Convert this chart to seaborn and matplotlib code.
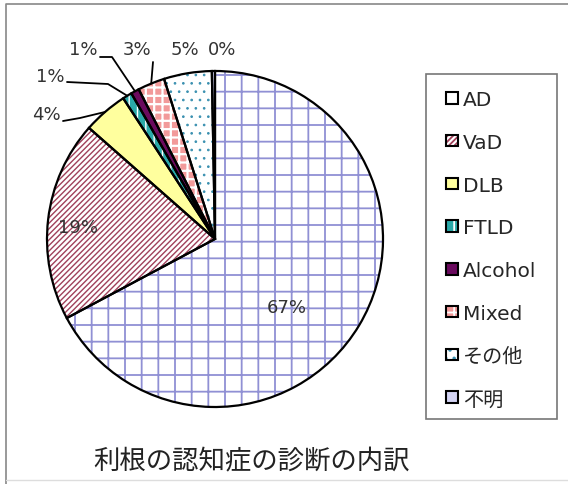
import numpy as np
import matplotlib.pyplot as plt
import seaborn as sns
from matplotlib.patches import Patch, Rectangle
from matplotlib.lines import Line2D

# 診断名と割合（%）
labels = ["AD", "VaD", "DLB", "FTLD", "Alcohol", "Mixed", "その他", "不明"]
values = [67.2, 19.3, 4.3, 0.9, 0.8, 2.6, 4.6, 0.3]
title = "利根の認知症の診断の内訳"

# 塗り・ハッチ
face_colors = ["white", "white", "#ffff9e", "#2aa9a9", "#6a0a5e", "#f29a9a", "white", "#d4d4f4"]
hatches = ["+", "//////", None, "||", None, "++", "..", None]
hatch_colors = ["#9090d4", "#a0405a", "#ffff9e", "white", "#6a0a5e", "white", "#3a90b0", "#d4d4f4"]
hatch_widths = [1.3, 1.0, 1.0, 1.0, 1.0, 1.6, 0.7, 1.0]

sns.set_theme(style="white")
plt.rcParams["font.family"] = ["DejaVu Sans", "Noto Sans CJK JP"]
plt.rcParams["hatch.linewidth"] = 1.3

W, H = 568, 485
fig = plt.figure(figsize=(W / 100, H / 100), dpi=100)

# 円の位置（ピクセル）
cx, cy, r = 215, 240, 168
ax = fig.add_axes([(cx - r) / W, (H - cy - r) / H, 2 * r / W, 2 * r / H])


def px(x, y):
    # ピクセル座標 -> 円グラフのデータ座標
    return (x - cx) / r, (cy - y) / r


def style_patch(p, h, hc, hw):
    if h:
        p.set_hatch(h)
    p.set_edgecolor(hc)
    if hasattr(p, "set_hatch_linewidth"):
        p.set_hatch_linewidth(hw)


wedges, _ = ax.pie(values, startangle=90, counterclock=False,
                   colors=face_colors, wedgeprops=dict(linewidth=0))
for w, h, hc, hw in zip(wedges, hatches, hatch_colors, hatch_widths):
    style_patch(w, h, hc, hw)
# 黒い輪郭
ax.pie(values, startangle=90, counterclock=False,
       wedgeprops=dict(fill=False, edgecolor="black", linewidth=1.6))
ax.set_xlim(-1, 1)
ax.set_ylim(-1, 1)

# パーセントラベル位置（ピクセル）
pct_pos = [(287, 308), (78, 228), (46, 115), (50, 77), (83, 50), (137, 50), (185, 50), (222, 50)]
for v, (x, y) in zip(values, pct_pos):
    ax.text(*px(x, y), f"{v:.0f}%", ha="center", va="center", fontsize=13,
            color="#333333", clip_on=False)

# 引き出し線
leaders = {2: [(63, 122), (80, 119)], 3: [(67, 83), (108, 85)],
           4: [(100, 58), (112, 58)], 5: [(153, 63)]}
for i, pts in leaders.items():
    w = wedges[i]
    mid = np.deg2rad((w.theta1 + w.theta2) / 2)
    xs = [px(*p)[0] for p in pts] + [np.cos(mid)]
    ys = [px(*p)[1] for p in pts] + [np.sin(mid)]
    ax.plot(xs, ys, color="black", linewidth=1.3, clip_on=False)

# 凡例
handles = []
for fc, h, hc, hw in zip(face_colors, hatches, hatch_colors, hatch_widths):
    p = Patch(facecolor=fc, linewidth=0)
    style_patch(p, h, hc, hw)
    handles.append((p, Patch(fill=False, edgecolor="black", linewidth=1.5)))
fig.legend(handles, labels, loc="upper left", bbox_to_anchor=(446 / W, 1 - 91 / H),
           frameon=False, fontsize=14.5, handlelength=0.6, handleheight=0.5,
           handletextpad=0.25, labelspacing=1.18, borderpad=0, borderaxespad=0)
fig.add_artist(Rectangle((426 / W, 1 - 420 / H), (557 - 426) / W, (420 - 75) / H,
                         transform=fig.transFigure, fill=False,
                         edgecolor="#777777", linewidth=1.2))

# タイトル
fig.text(252 / W, 1 - 462 / H, title, ha="center", va="center", fontsize=19,
         family=["Noto Sans CJK JP"], color="#222222")

# グラフエリアの枠
fig.add_artist(Line2D([6 / W, 6 / W, 1], [0, 1 - 5 / H, 1 - 5 / H],
                      transform=fig.transFigure, color="#888888", linewidth=1.2))
fig.add_artist(Line2D([6 / W, 1], [1 - 481 / H, 1 - 481 / H],
                      transform=fig.transFigure, color="#dddddd", linewidth=1))

fig.savefig("out.png", dpi=100)
